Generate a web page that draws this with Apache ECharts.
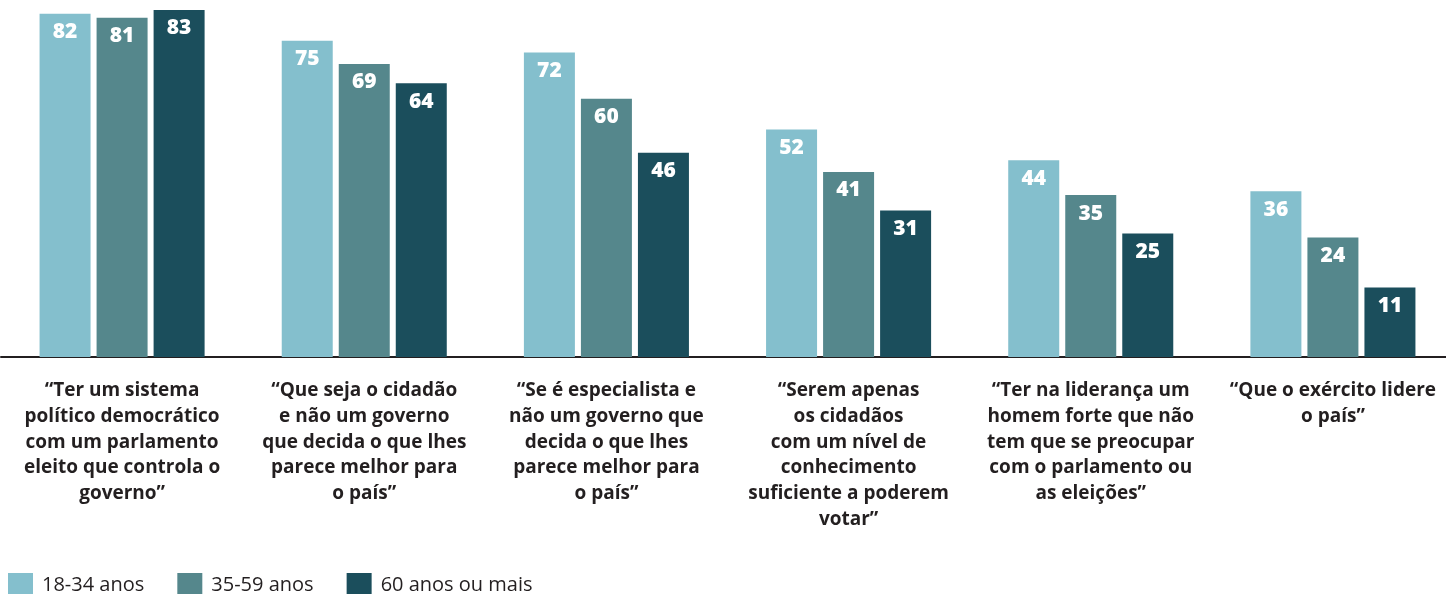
<!DOCTYPE html>
<html>
<head>
<meta charset="utf-8">
<script src="https://cdn.jsdelivr.net/npm/echarts@6/dist/echarts.min.js"></script>
<style>
  html, body { margin: 0; padding: 0; background: #fff; }
  #chart { width: 1446px; height: 594px; }
</style>
</head>
<body>
<div id="chart"></div>
<script>
const categories = [
  '“Ter um sistema\npolítico democrático\ncom um parlamento\neleito que controla o\ngoverno”',
  '“Que seja o cidadão\ne não um governo\nque decida o que lhes\nparece melhor para\no país”',
  '“Se é especialista e\nnão um governo que\ndecida o que lhes\nparece melhor para\no país”',
  '“Serem apenas\nos cidadãos\ncom um nível de\nconhecimento\nsuficiente a poderem\nvotar”',
  '“Ter na liderança um\nhomem forte que não\ntem que se preocupar\ncom o parlamento ou\nas eleições”',
  '“Que o exército lidere\no país”'
]
const seriesNames = ['18-34 anos', '35-59 anos', '60 anos ou mais']
const age18to34 = [82, 75, 72, 52, 44, 36]
const age35to59 = [81, 69, 60, 41, 35, 24]
const age60plus = [83, 64, 46, 31, 25, 11]

const colors = ['#84bfcd', '#55878c', '#1b4e5c']
const fontFamily = '"Open Sans", sans-serif'

const chart = echarts.init(document.getElementById('chart'))

const makeSeries = (name, data) => ({
  name,
  type: 'bar',
  data,
  barWidth: 51,
  barGap: '11.8%',
  animation: false,
  label: {
    show: true,
    position: 'insideTop',
    distance: 8,
    color: '#fff',
    fontFamily,
    fontWeight: 800,
    fontSize: 21
  }
})

chart.setOption({
  color: colors,
  legend: {
    data: seriesNames,
    left: 8,
    top: 573,
    padding: 0,
    itemWidth: 25,
    itemHeight: 25,
    itemGap: 33,
    icon: 'rect',
    textStyle: {
      color: '#231f20',
      fontFamily,
      fontSize: 20,
      padding: [0, 0, 0, 4]
    }
  },
  grid: {
    left: 1,
    top: 10,
    width: 1453,
    bottom: 237,
    containLabel: false,
    outerBoundsMode: 'none'
  },
  xAxis: {
    type: 'category',
    data: categories,
    axisTick: { show: false },
    axisLine: { onZero: false, lineStyle: { color: '#231f20', width: 2 } },
    axisLabel: {
      interval: 0,
      margin: 21,
      color: '#231f20',
      fontFamily,
      fontWeight: 700,
      fontSize: 19,
      lineHeight: 25.7
    }
  },
  yAxis: {
    type: 'value',
    min: -7,
    max: 83,
    startValue: -7,
    show: false,
    splitLine: { show: false }
  },
  series: [
    makeSeries(seriesNames[0], age18to34),
    makeSeries(seriesNames[1], age35to59),
    makeSeries(seriesNames[2], age60plus)
  ]
})
</script>
</body>
</html>
